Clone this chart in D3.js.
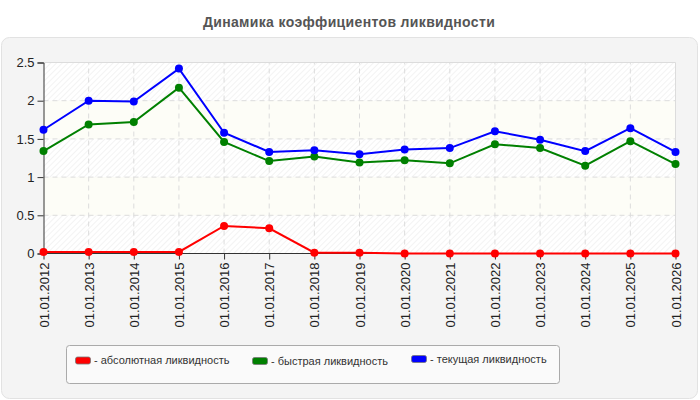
<!DOCTYPE html>
<html>
<head>
<meta charset="utf-8">
<script src="https://cdn.jsdelivr.net/npm/d3@7"></script>
<style>
  body { margin: 0; background: #fff; }
  svg { display: block; font-family: Arial, "Liberation Sans", sans-serif; }
</style>
</head>
<body>
<svg id="chart" width="700" height="400"></svg>
<script>
const dates = ['01.01.2012', '01.01.2013', '01.01.2014', '01.01.2015', '01.01.2016', '01.01.2017', '01.01.2018',
  '01.01.2019', '01.01.2020', '01.01.2021', '01.01.2022', '01.01.2023', '01.01.2024', '01.01.2025', '01.01.2026'];
const absolute = [0.02, 0.02, 0.02, 0.02, 0.36, 0.33, 0.01, 0.01, 0, 0, 0, 0, 0, 0, 0];
const quick = [1.34, 1.69, 1.72, 2.17, 1.46, 1.21, 1.27, 1.19, 1.22, 1.18, 1.43, 1.38, 1.15, 1.47, 1.17];
const current = [1.62, 2.0, 1.99, 2.42, 1.58, 1.33, 1.35, 1.3, 1.36, 1.38, 1.6, 1.49, 1.34, 1.64, 1.33];
const yTicks = [0, 0.5, 1, 1.5, 2, 2.5];
const seriesNames = ['- абсолютная ликвидность', '- быстрая ликвидность', '- текущая ликвидность'];

const svg = d3.select('#chart');
const colors = ['#ff0000', '#008000', '#0000ff'];
const series = [absolute, quick, current];

// title
svg.append('text')
  .attr('x', 349).attr('y', 27)
  .attr('text-anchor', 'middle')
  .attr('font-size', 14).attr('font-weight', 'bold')
  .attr('letter-spacing', 0.35)
  .attr('fill', '#555')
  .text('Динамика коэффициентов ликвидности');

// panel
svg.append('rect')
  .attr('x', 1.5).attr('y', 37.5).attr('width', 696).attr('height', 361)
  .attr('rx', 8)
  .attr('fill', '#f4f4f4').attr('stroke', '#e2e2e2');

const x = d3.scalePoint().domain(dates).range([43.5, 675.5]);
const y = d3.scaleLinear().domain([0, 2.5]).range([253.5, 62.5]);

// hatch pattern
const defs = svg.append('defs');
const pat = defs.append('pattern')
  .attr('id', 'hatch').attr('patternUnits', 'userSpaceOnUse')
  .attr('width', 4).attr('height', 4)
  .attr('patternTransform', 'rotate(45)');
pat.append('rect').attr('width', 4).attr('height', 4).attr('fill', '#fff');
pat.append('line').attr('x1', 0).attr('y1', 0).attr('x2', 0).attr('y2', 4)
  .attr('stroke', '#ececec').attr('stroke-width', 1.2);

const bands = d3.pairs(yTicks);
svg.append('g').selectAll('rect')
  .data(bands)
  .enter()
  .append('rect')
  .attr('x', x.range()[0]).attr('width', x.range()[1] - x.range()[0])
  .attr('y', (d) => y(d[1])).attr('height', (d) => y(d[0]) - y(d[1]))
  .attr('fill', (d, i) => (i % 2 ? '#fdfdf7' : 'url(#hatch)'));

// grid
const grid = svg.append('g').attr('stroke', '#dcdcdc').attr('stroke-dasharray', '5,4');
grid.selectAll('line.h')
  .data(yTicks.slice(1, -1))
  .enter()
  .append('line')
  .attr('x1', x.range()[0]).attr('x2', x.range()[1])
  .attr('y1', (d) => y(d)).attr('y2', (d) => y(d));
grid.selectAll('line.v')
  .data(dates.slice(1, -1))
  .enter()
  .append('line')
  .attr('x1', (d) => x(d)).attr('x2', (d) => x(d))
  .attr('y1', y(0)).attr('y2', y(2.5));

svg.append('path')
  .attr('d', `M${x.range()[0]},${y(2.5)}H${x.range()[1]}V${y(0)}`)
  .attr('fill', 'none').attr('stroke', '#dcdcdc');

// axes
const yAxis = svg.append('g')
  .attr('transform', `translate(${x.range()[0]},0)`)
  .call(d3.axisLeft(y).tickValues(yTicks).tickFormat(d3.format('')).tickSizeOuter(0).tickSize(6));
yAxis.selectAll('text').attr('font-size', 13).attr('fill', '#222').attr('font-family', 'Arial, "Liberation Sans", sans-serif');
yAxis.selectAll('line, path').attr('stroke', '#333');

const xAxis = svg.append('g')
  .attr('transform', `translate(0,${y(0)})`)
  .call(d3.axisBottom(x).tickSizeOuter(0).tickSize(6));
xAxis.select('.domain').attr('d', `M${x.range()[0]},0H${x.range()[1]}`);
xAxis.selectAll('line, path').attr('stroke', '#333');
xAxis.selectAll('text')
  .attr('font-size', 13).attr('fill', '#222').attr('font-family', 'Arial, "Liberation Sans", sans-serif')
  .attr('transform', 'rotate(-90)')
  .attr('text-anchor', 'end')
  .attr('x', -9).attr('y', 0).attr('dy', '0.35em');

// series
const line = d3.line().x((d, i) => x(dates[i])).y((d) => y(d));
series.forEach((s, k) => {
  const g = svg.append('g');
  g.append('path')
    .attr('d', line(s))
    .attr('fill', 'none')
    .attr('stroke', colors[k])
    .attr('stroke-width', 2);
  g.selectAll('circle')
    .data(s)
    .enter()
    .append('circle')
    .attr('cx', (d, i) => x(dates[i]))
    .attr('cy', (d) => y(d))
    .attr('r', 4)
    .attr('fill', colors[k]);
});

// legend
svg.append('rect')
  .attr('x', 66.5).attr('y', 345.5).attr('width', 493).attr('height', 38)
  .attr('rx', 3)
  .attr('fill', '#fafafa').attr('stroke', '#aaa');
const legendX = [75, 252, 411];
const legendY = [360.5, 361, 359];
const legend = svg.selectAll('g.legend')
  .data(seriesNames)
  .enter()
  .append('g')
  .classed('legend', true)
  .attr('transform', (d, i) => `translate(${legendX[i]}, ${legendY[i]})`);
legend.append('rect')
  .attr('x', 0.5).attr('y', -3.5).attr('width', 15).attr('height', 7)
  .attr('rx', 2)
  .attr('fill', (d, i) => colors[i])
  .attr('stroke', '#777').attr('stroke-width', 0.8);
legend.append('text')
  .attr('x', 19).attr('y', 0).attr('dy', '0.35em')
  .attr('font-size', 11).attr('fill', '#333')
  .text((d) => d);
</script>
</body>
</html>
